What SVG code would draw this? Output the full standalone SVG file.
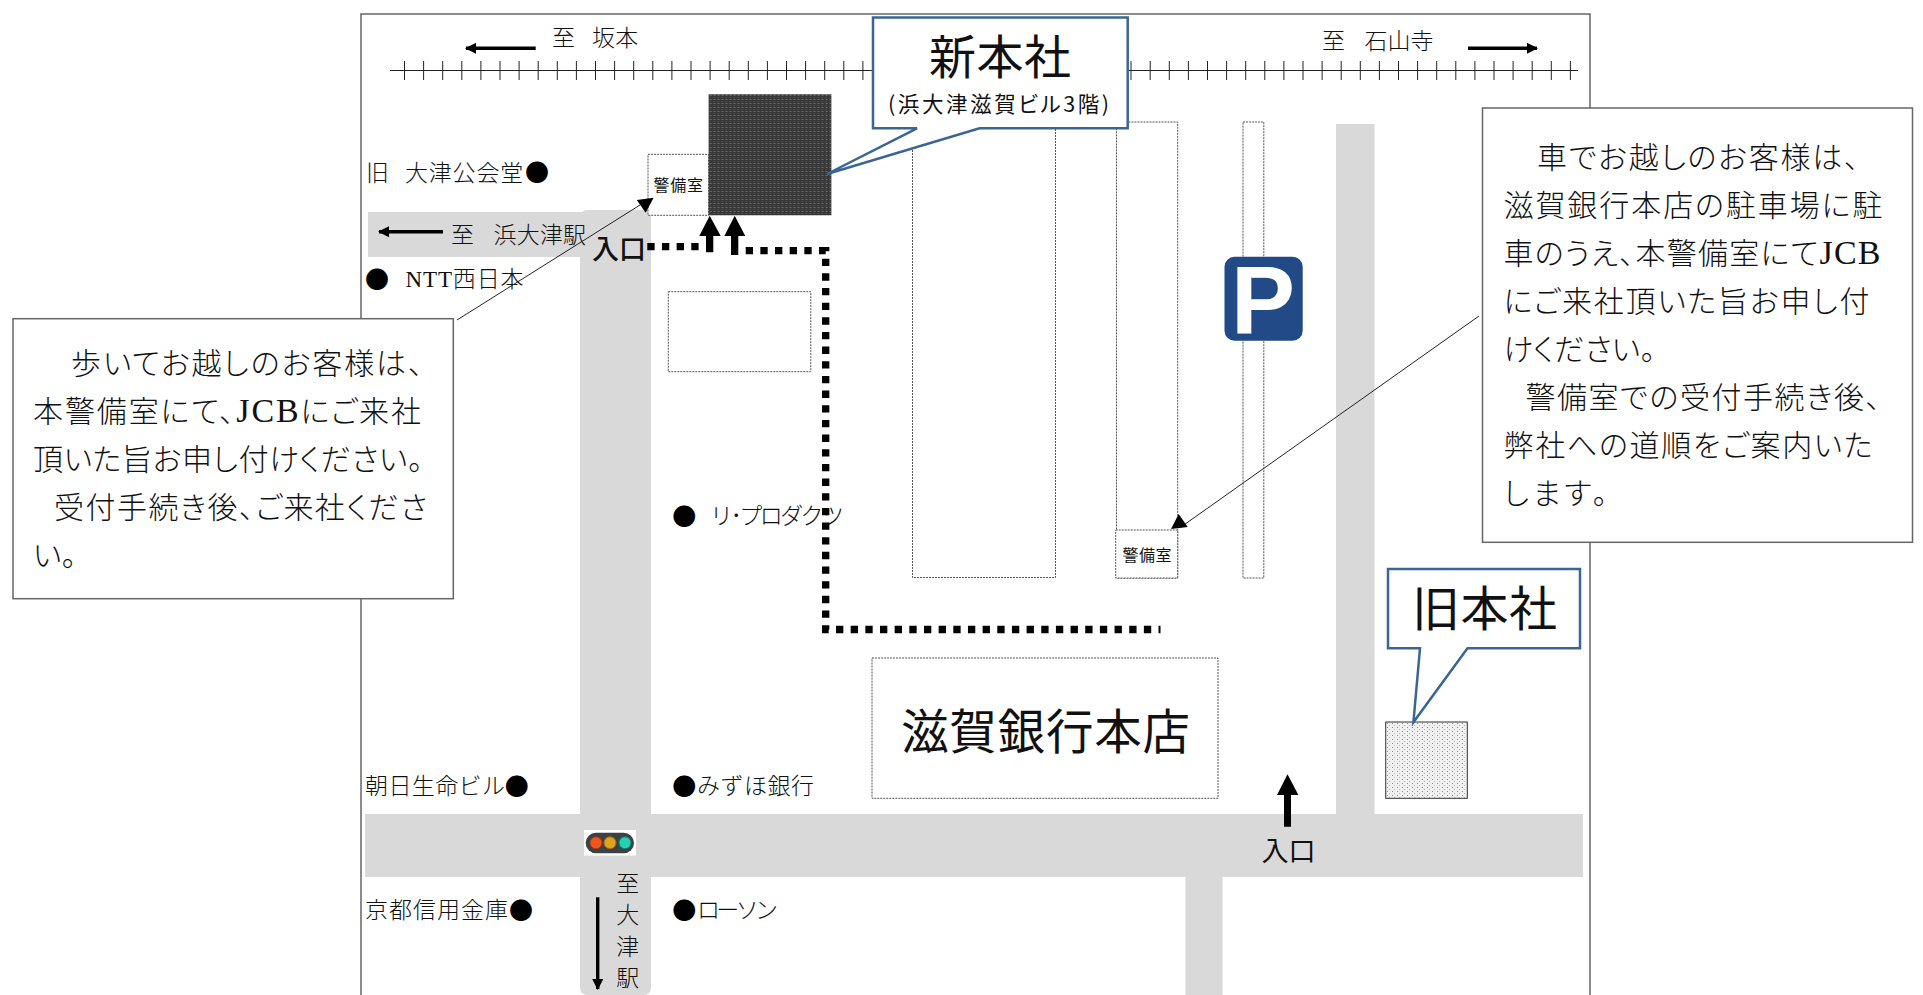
<svg xmlns="http://www.w3.org/2000/svg" width="1923" height="995" viewBox="0 0 1923 995">
<style>
text{fill:#111}
.m{font-family:"Liberation Serif","Noto Sans CJK JP",serif;font-weight:300;font-size:23px}
.b{font-family:"Liberation Serif","Noto Sans CJK JP",serif;font-weight:300;font-size:30px;font-feature-settings:"palt"}
.j{font-size:34px}
.g{font-family:"Noto Sans CJK JP","Liberation Sans",sans-serif;font-weight:400}
.h{font-weight:500}
.d{font-family:"Noto Sans CJK JP",sans-serif;font-size:24px;text-anchor:middle;fill:#000}
.road{fill:#d9d9d9}
.dash{fill:#fff;stroke:#555;stroke-width:1;stroke-dasharray:2 1}
.box{fill:#fff;stroke:#666;stroke-width:1.5}
.call{fill:#fff;stroke:#3a6597;stroke-width:2.5;stroke-linejoin:miter}
.route{fill:none;stroke:#000;stroke-width:7.33;stroke-dasharray:7.33 7.33}
.thin{fill:none;stroke:#222;stroke-width:1}
.thick{fill:none;stroke:#000;stroke-width:3.4}
</style>
<defs>
<pattern id="dark" width="4" height="4" patternUnits="userSpaceOnUse" x="708.6" y="94">
<rect width="4" height="4" fill="#383838"/><rect x="1" y="1" width="2" height="1" fill="#6a6a6a"/><rect x="1" y="3" width="1" height="1" fill="#555"/>
</pattern>
<pattern id="light" width="5" height="4" patternUnits="userSpaceOnUse" x="1386" y="722">
<rect width="5" height="4" fill="#f0f0f0"/><rect x="1" y="1" width="1" height="1" fill="#8a8a8a"/><rect x="3" y="3" width="1" height="1" fill="#b5b5b5"/>
</pattern>
<marker id="ah" markerWidth="11" markerHeight="11" refX="10" refY="5.500" orient="auto" markerUnits="userSpaceOnUse"><path d="M0,0L11,5.500L0,11Z" fill="#000"/></marker>
</defs>
<rect width="1923" height="995" fill="#fff"/>
<path id="frame" d="M361,995V14H1590V995" fill="none" stroke="#666" stroke-width="1.5"/>

<g id="roads">
<rect class="road" x="368" y="212" width="240" height="45"/>
<path class="road" d="M588,210H651V987Q651,995 643,995H588Q580,995 580,987V218Q580,210 588,210Z"/>
<rect class="road" x="365" y="814" width="1218" height="63"/>
<rect class="road" x="1336" y="124" width="38.500" height="700"/>
<path class="road" d="M1185.500,870H1222.500V995H1185.500Z"/>
</g>

<g id="railway">
<path class="thin" d="M390,70.500H1578"/>
<path class="thin" d="M404.500,61V80M423.600,61V80M442.700,61V80M461.800,61V80M480.900,61V80M500,61V80M519.100,61V80M538.200,61V80M557.300,61V80M576.400,61V80M595.500,61V80M614.600,61V80M633.700,61V80M652.800,61V80M671.900,61V80M691,61V80M710.100,61V80M729.200,61V80M748.300,61V80M767.400,61V80M786.500,61V80M805.600,61V80M824.700,61V80M843.800,61V80M862.900,61V80M1131,61V80M1150.200,61V80M1169.300,61V80M1188.400,61V80M1207.500,61V80M1226.600,61V80M1245.700,61V80M1264.800,61V80M1283.900,61V80M1303,61V80M1322.100,61V80M1341.200,61V80M1360.300,61V80M1379.400,61V80M1398.500,61V80M1417.600,61V80M1436.700,61V80M1455.800,61V80M1474.900,61V80M1494,61V80M1513.100,61V80M1532.200,61V80M1551.300,61V80M1570.400,61V80"/>
</g>

<g id="labels">
<text class="m" x="552" y="46">至<tspan font-size="17">　</tspan><tspan letter-spacing=".3">坂本</tspan></text>
<text class="m" x="1322" y="49">至<tspan font-size="19.500">　</tspan>石山寺</text>
<text class="m" x="366" y="181">旧<tspan font-size="16">　</tspan><tspan letter-spacing=".8">大津公会堂</tspan></text>
<text class="d" x="537" y="181">●</text>
<text class="m" x="451" y="243">至<tspan font-size="19.500">　</tspan><tspan letter-spacing=".2">浜大津駅</tspan></text>
<text class="d" x="377" y="288">●</text>
<text class="m" x="405.500" y="287" textLength="118">NTT西日本</text>
<text class="d" x="684.300" y="525">●</text>
<text class="m" x="710" y="524" textLength="134">リ･プロダクツ</text>
<text class="m" x="365" y="794" textLength="140">朝日生命ビル</text>
<text class="d" x="516.700" y="795">●</text>
<text class="d" x="684.300" y="795">●</text>
<text class="m" x="697" y="794" textLength="117">みずほ銀行</text>
<text class="m" x="365" y="918" textLength="143">京都信用金庫</text>
<text class="d" x="521" y="919">●</text>
<text class="d" x="684.300" y="919">●</text>
<text class="m" x="697" y="918" textLength="81">ローソン</text>
<text class="m" text-anchor="middle"><tspan x="627.700" y="892">至</tspan><tspan x="627.700" y="923">大</tspan><tspan x="627.700" y="955">津</tspan><tspan x="627.700" y="986">駅</tspan></text>
</g>

<g id="lot-1"><rect class="dash" x="912.500" y="122" width="143" height="455.500"/></g>
<g id="lot-2"><rect class="dash" x="1116.500" y="122" width="61.200" height="456"/></g>
<g id="lot-3"><rect class="dash" x="1243" y="122" width="20.800" height="456"/></g>
<g id="building-small"><rect class="dash" x="668.300" y="291.700" width="142.500" height="80"/></g>

<g id="guard-1"><rect class="dash" x="648" y="154.300" width="60.600" height="61"/>
<text class="g" x="653.500" y="191" font-size="16" textLength="49.500" font-weight="500">警備室</text></g>
<g id="guard-2"><rect class="dash" x="1115.700" y="530" width="62" height="48"/>
<text class="g" x="1122.500" y="560.500" font-size="16" textLength="49" font-weight="500">警備室</text></g>

<g id="new-hq-building"><rect x="708.600" y="94.300" width="122.800" height="121" fill="url(#dark)"/></g>
<g id="shiga-bank"><rect class="dash" x="872" y="658" width="346" height="140.300"/>
<text class="g" x="901" y="749" font-size="47.500" textLength="289">滋賀銀行本店</text></g>
<g id="old-hq-building"><rect x="1385.700" y="722" width="81.600" height="76.300" fill="url(#light)" stroke="#333" stroke-width="1"/></g>

<g id="parking"><rect x="1224.500" y="256.700" width="78.200" height="84" rx="10" fill="#214a87"/>
<text x="1231" y="333.300" font-family="Liberation Sans" font-weight="700" font-size="96" style="fill:#fff">P</text></g>

<g id="signal"><rect x="584" y="830" width="52" height="25.500" fill="#fff"/><rect x="585.700" y="832.700" width="48.300" height="20.600" rx="10.300" fill="#3f4046"/>
<circle cx="596" cy="842.800" r="6" fill="#f2551e" stroke="#a63a12" stroke-width="1"/><circle cx="610" cy="842.800" r="6" fill="#e0a21f" stroke="#96701a" stroke-width="1"/><circle cx="625" cy="842.800" r="6" fill="#22d2b0" stroke="#14806c" stroke-width="1"/></g>

<g id="connectors">
<path class="route" d="M647.300,246.700H699"/>
<path class="route" d="M745.700,250.700H825.700V629.500H1160.500"/>
<path class="thin" d="M457,320L640,205"/>
<path d="M636.800,200L653.600,197.700L645.700,212.700Z" fill="#000"/>
<path class="thin" d="M1479,316L1181,527"/>
<path d="M1178.700,514L1171,529L1187.700,527Z" fill="#000"/>
<path class="thick" d="M535.700,48.300H466" marker-end="url(#ah)"/>
<path class="thick" d="M1468,48.300H1537" marker-end="url(#ah)"/>
<path class="thick" d="M443,231.700H379" marker-end="url(#ah)"/>
<path class="thick" d="M597.700,897.300V989" marker-end="url(#ah)"/>
<path d="M709.700,215.700L720.700,236H713.300V252.300H706V236H699.300Z" fill="#000"/>
<path d="M734.700,215.700L745.300,236H738.300V255H731V236H724.300Z" fill="#000"/>
<path d="M1287.500,774.300L1298.400,795H1291V826.700H1284V795H1277Z" fill="#000"/>
</g>

<g id="entrance-labels">
<text class="g h" x="592" y="259" font-size="27" textLength="54">入口</text>
<text class="g" x="1261.500" y="861" font-size="27" textLength="54">入口</text>
</g>

<g id="callout-new">
<path class="call" d="M873,17.500H1127.700V128.300H979.500L827,174L917,128.300H873Z"/>
<text class="g" x="929" y="74" font-size="47" textLength="142">新本社</text>
<text class="g" x="888" y="112" font-size="21.500" textLength="221" style="font-feature-settings:'palt'">(浜大津滋賀ビル3階)</text>
</g>
<g id="callout-old">
<path class="call" d="M1388,569H1580V648.300H1467.500L1413.400,722.300L1420,648.300H1388Z"/>
<text class="g" x="1412" y="626" font-size="48" textLength="145">旧本社</text>
</g>

<g id="note-walk">
<rect class="box" x="13" y="318.700" width="440.300" height="280"/>
<text class="b" x="71" y="374" textLength="352">歩いてお越しのお客様は、</text>
<text class="b" x="33" y="422" textLength="388">本警備室にて、<tspan class="j">JCB</tspan>にご来社</text>
<text class="b" x="33" y="470" textLength="390">頂いた旨お申し付けください。</text>
<text class="b" x="54" y="518" textLength="373">受付手続き後、ご来社くださ</text>
<text class="b" x="33" y="566">い。</text>
</g>
<g id="note-car">
<rect class="box" x="1482.500" y="108" width="430" height="434.300"/>
<text class="b" x="1537" y="168" textLength="322">車でお越しのお客様は、</text>
<text class="b" x="1503.500" y="216" textLength="379">滋賀銀行本店の駐車場に駐</text>
<text class="b" x="1503.500" y="264" textLength="377">車のうえ、本警備室にて<tspan class="j">JCB</tspan></text>
<text class="b" x="1503.500" y="312" textLength="366">にご来社頂いた旨お申し付</text>
<text class="b" x="1503.500" y="360" textLength="152">けください。</text>
<text class="b" x="1525.500" y="408" textLength="355">警備室での受付手続き後、</text>
<text class="b" x="1503.500" y="456" textLength="369">弊社への道順をご案内いた</text>
<text class="b" x="1503.500" y="504" textLength="104">します。</text>
</g>
</svg>
